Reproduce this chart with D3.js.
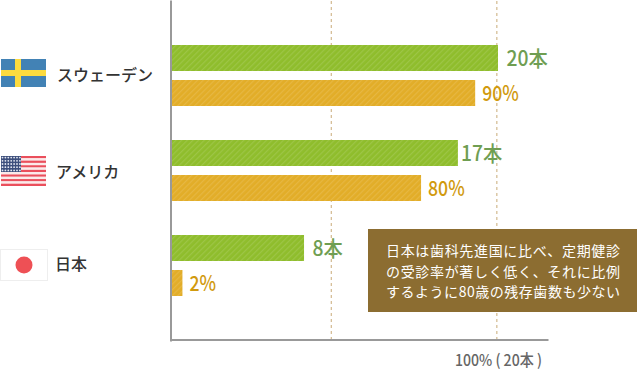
<!DOCTYPE html>
<html>
<head>
<meta charset="utf-8">
<script src="https://cdn.jsdelivr.net/npm/d3@7"></script>
<style>
html, body { margin: 0; padding: 0; background: #fff; }
svg { display: block; }
text { font-family: "Noto Sans CJK JP", "Noto Sans", sans-serif; }
</style>
</head>
<body>
<svg id="chart"></svg>
<script>
const width = 637;
const height = 369;

const countries = ["スウェーデン", "アメリカ", "日本"];
const seriesNames = ["teeth", "rate"];
// bar lengths, in % of the 100% line
const teethLengths = [100, 87.7, 40.5];
const rateLengths = [93, 76.4, 3.2];
const teethLabels = ["20本", "17本", "8本"];
const rateLabels = ["90%", "80%", "2%"];
const gridTicks = [48.7, 99.5];
const noteLines = [
    "日本は歯科先進国に比べ、定期健診",
    "の受診率が著しく低く、それに比例",
    "するように80歳の残存歯数も少ない"
];
const axisNote = "100% ( 20本 )";

const svg = d3.select("#chart")
    .attr("width", width)
    .attr("height", height);

const xScale = d3.scaleLinear().domain([0, 100]).range([172, 498]);
const yScale = d3.scaleBand().domain(countries).range([45, 330]);
const ySub = d3.scaleBand().domain(seriesNames).range([0, 61]).paddingInner(9 / 35);

const color = d3.scaleOrdinal().domain(seriesNames).range(["#8fbd2c", "#e2ad28"]);
const labelColor = d3.scaleOrdinal().domain(seriesNames).range(["#6f9e52", "#d19a0e"]);

// Hatch on the bars
const defs = svg.append("defs");
seriesNames.forEach(key => {
    const p = defs.append("pattern")
        .attr("id", "hatch-" + key)
        .attr("width", 4)
        .attr("height", 4)
        .attr("patternUnits", "userSpaceOnUse")
        .attr("patternTransform", "rotate(45)");
    p.append("rect").attr("width", 4).attr("height", 4).attr("fill", color(key));
    p.append("rect").attr("width", 1.2).attr("height", 4).attr("fill", "#fff").attr("opacity", 0.12);
});

// Dashed grid lines
const grid = svg.append("g")
    .attr("transform", "translate(0, 340)")
    .call(d3.axisBottom(xScale).tickValues(gridTicks).tickSize(-340).tickFormat(""));
grid.select(".domain").remove();
grid.selectAll("line")
    .attr("stroke", "#c9ab78")
    .attr("stroke-dasharray", "3,3");

// Bars
const rows = countries.map((c, i) => ({
    country: c,
    items: [
        { key: "teeth", value: teethLengths[i], label: teethLabels[i] },
        { key: "rate", value: rateLengths[i], label: rateLabels[i] }
    ]
}));

const groups = svg.selectAll("g.group")
    .data(rows)
    .enter().append("g")
    .attr("class", "group")
    .attr("transform", d => `translate(0, ${yScale(d.country)})`);

groups.selectAll("rect")
    .data(d => d.items)
    .enter().append("rect")
    .attr("x", xScale(0))
    .attr("y", d => ySub(d.key))
    .attr("width", d => xScale(d.value) - xScale(0))
    .attr("height", ySub.bandwidth())
    .attr("fill", d => `url(#hatch-${d.key})`);

// Value labels, condensed like the original ("17本" sits closer to its bar)
groups.selectAll("text.value")
    .data(d => d.items)
    .enter().append("text")
    .attr("class", "value")
    .attr("transform", d => {
        const gap = d.label === "17本" ? 3 : (d.key === "teeth" ? 8.5 : 7);
        const sx = d.key === "teeth" ? 0.92 : 0.84;
        return `translate(${xScale(d.value) + gap}, ${ySub(d.key) + 20.5}) scale(${sx}, 1)`;
    })
    .attr("fill", d => labelColor(d.key))
    .style("font-size", "21px")
    .style("font-weight", 500)
    .text(d => d.label);

// Axis lines
svg.append("g")
    .attr("transform", "translate(170.5, 0)")
    .call(d3.axisLeft(d3.scaleLinear().domain([0, 1]).range([341, 0])).tickValues([]).tickSizeOuter(0))
    .select(".domain").attr("stroke", "#999").attr("stroke-width", 2);
svg.append("g")
    .attr("transform", "translate(0, 339.5)")
    .call(d3.axisBottom(d3.scaleLinear().domain([0, 1]).range([170, 548])).tickValues([]).tickSizeOuter(0))
    .select(".domain").attr("stroke", "#999").attr("stroke-width", 2);

// Country labels
const countryX = [57, 56, 55];
const countryY = [81, 178, 270];
countries.forEach((c, i) => {
    svg.append("text")
        .attr("x", countryX[i])
        .attr("y", countryY[i])
        .attr("fill", "#333")
        .style("font-size", "16px")
        .style("font-weight", 500)
        .text(c);
});

// Flags
const sweden = svg.append("g").attr("transform", "translate(1, 59)");
sweden.append("rect").attr("width", 45).attr("height", 28).attr("fill", "#4282b5");
sweden.append("rect").attr("x", 14).attr("width", 6).attr("height", 28).attr("fill", "#fddb3f");
sweden.append("rect").attr("y", 11).attr("width", 45).attr("height", 6).attr("fill", "#fddb3f");

const stripes = d3.range(13);
const usa = svg.append("g").attr("transform", "translate(1, 156)");
const stripeY = d3.scaleBand().domain(stripes).range([0, 30]);
usa.selectAll("rect.stripe")
    .data(stripes)
    .enter().append("rect")
    .attr("class", "stripe")
    .attr("y", d => stripeY(d))
    .attr("width", 45)
    .attr("height", stripeY.bandwidth())
    .attr("fill", d => d % 2 ? "#fbeaea" : "#ea4f5c");
usa.append("rect").attr("width", 20).attr("height", 16).attr("fill", "#3d4f7c");
usa.selectAll("circle")
    .data(d3.cross(d3.range(7), d3.range(5)))
    .enter().append("circle")
    .attr("cx", d => 1.5 + d[0] * 2.9)
    .attr("cy", d => 1.6 + d[1] * 3.2)
    .attr("r", 0.9)
    .attr("fill", "#e6e9f2");

const japan = svg.append("g").attr("transform", "translate(0, 249)");
japan.append("rect")
    .attr("x", 0.5).attr("y", 0.5)
    .attr("width", 47).attr("height", 31)
    .attr("fill", "#fff")
    .attr("stroke", "#eee");
japan.append("circle").attr("cx", 24).attr("cy", 16).attr("r", 8.5).attr("fill", "#ee5055");

// Note box
svg.append("rect")
    .attr("x", 368)
    .attr("y", 229)
    .attr("width", 269)
    .attr("height", 83)
    .attr("fill", "#8c6d31");
svg.selectAll("text.note")
    .data(noteLines)
    .enter().append("text")
    .attr("class", "note")
    .attr("x", 386)
    .attr("y", (d, i) => 256 + i * 20.5)
    .attr("fill", "#fff")
    .attr("textLength", 234)
    .attr("lengthAdjust", "spacing")
    .style("font-size", "14px")
    .text(d => d);

// Axis note
svg.append("text")
    .attr("transform", "translate(455, 366) scale(0.88, 1)")
    .attr("fill", "#666")
    .style("font-size", "16px")
    .style("font-weight", 500)
    .text(axisNote);
</script>
</body>
</html>
